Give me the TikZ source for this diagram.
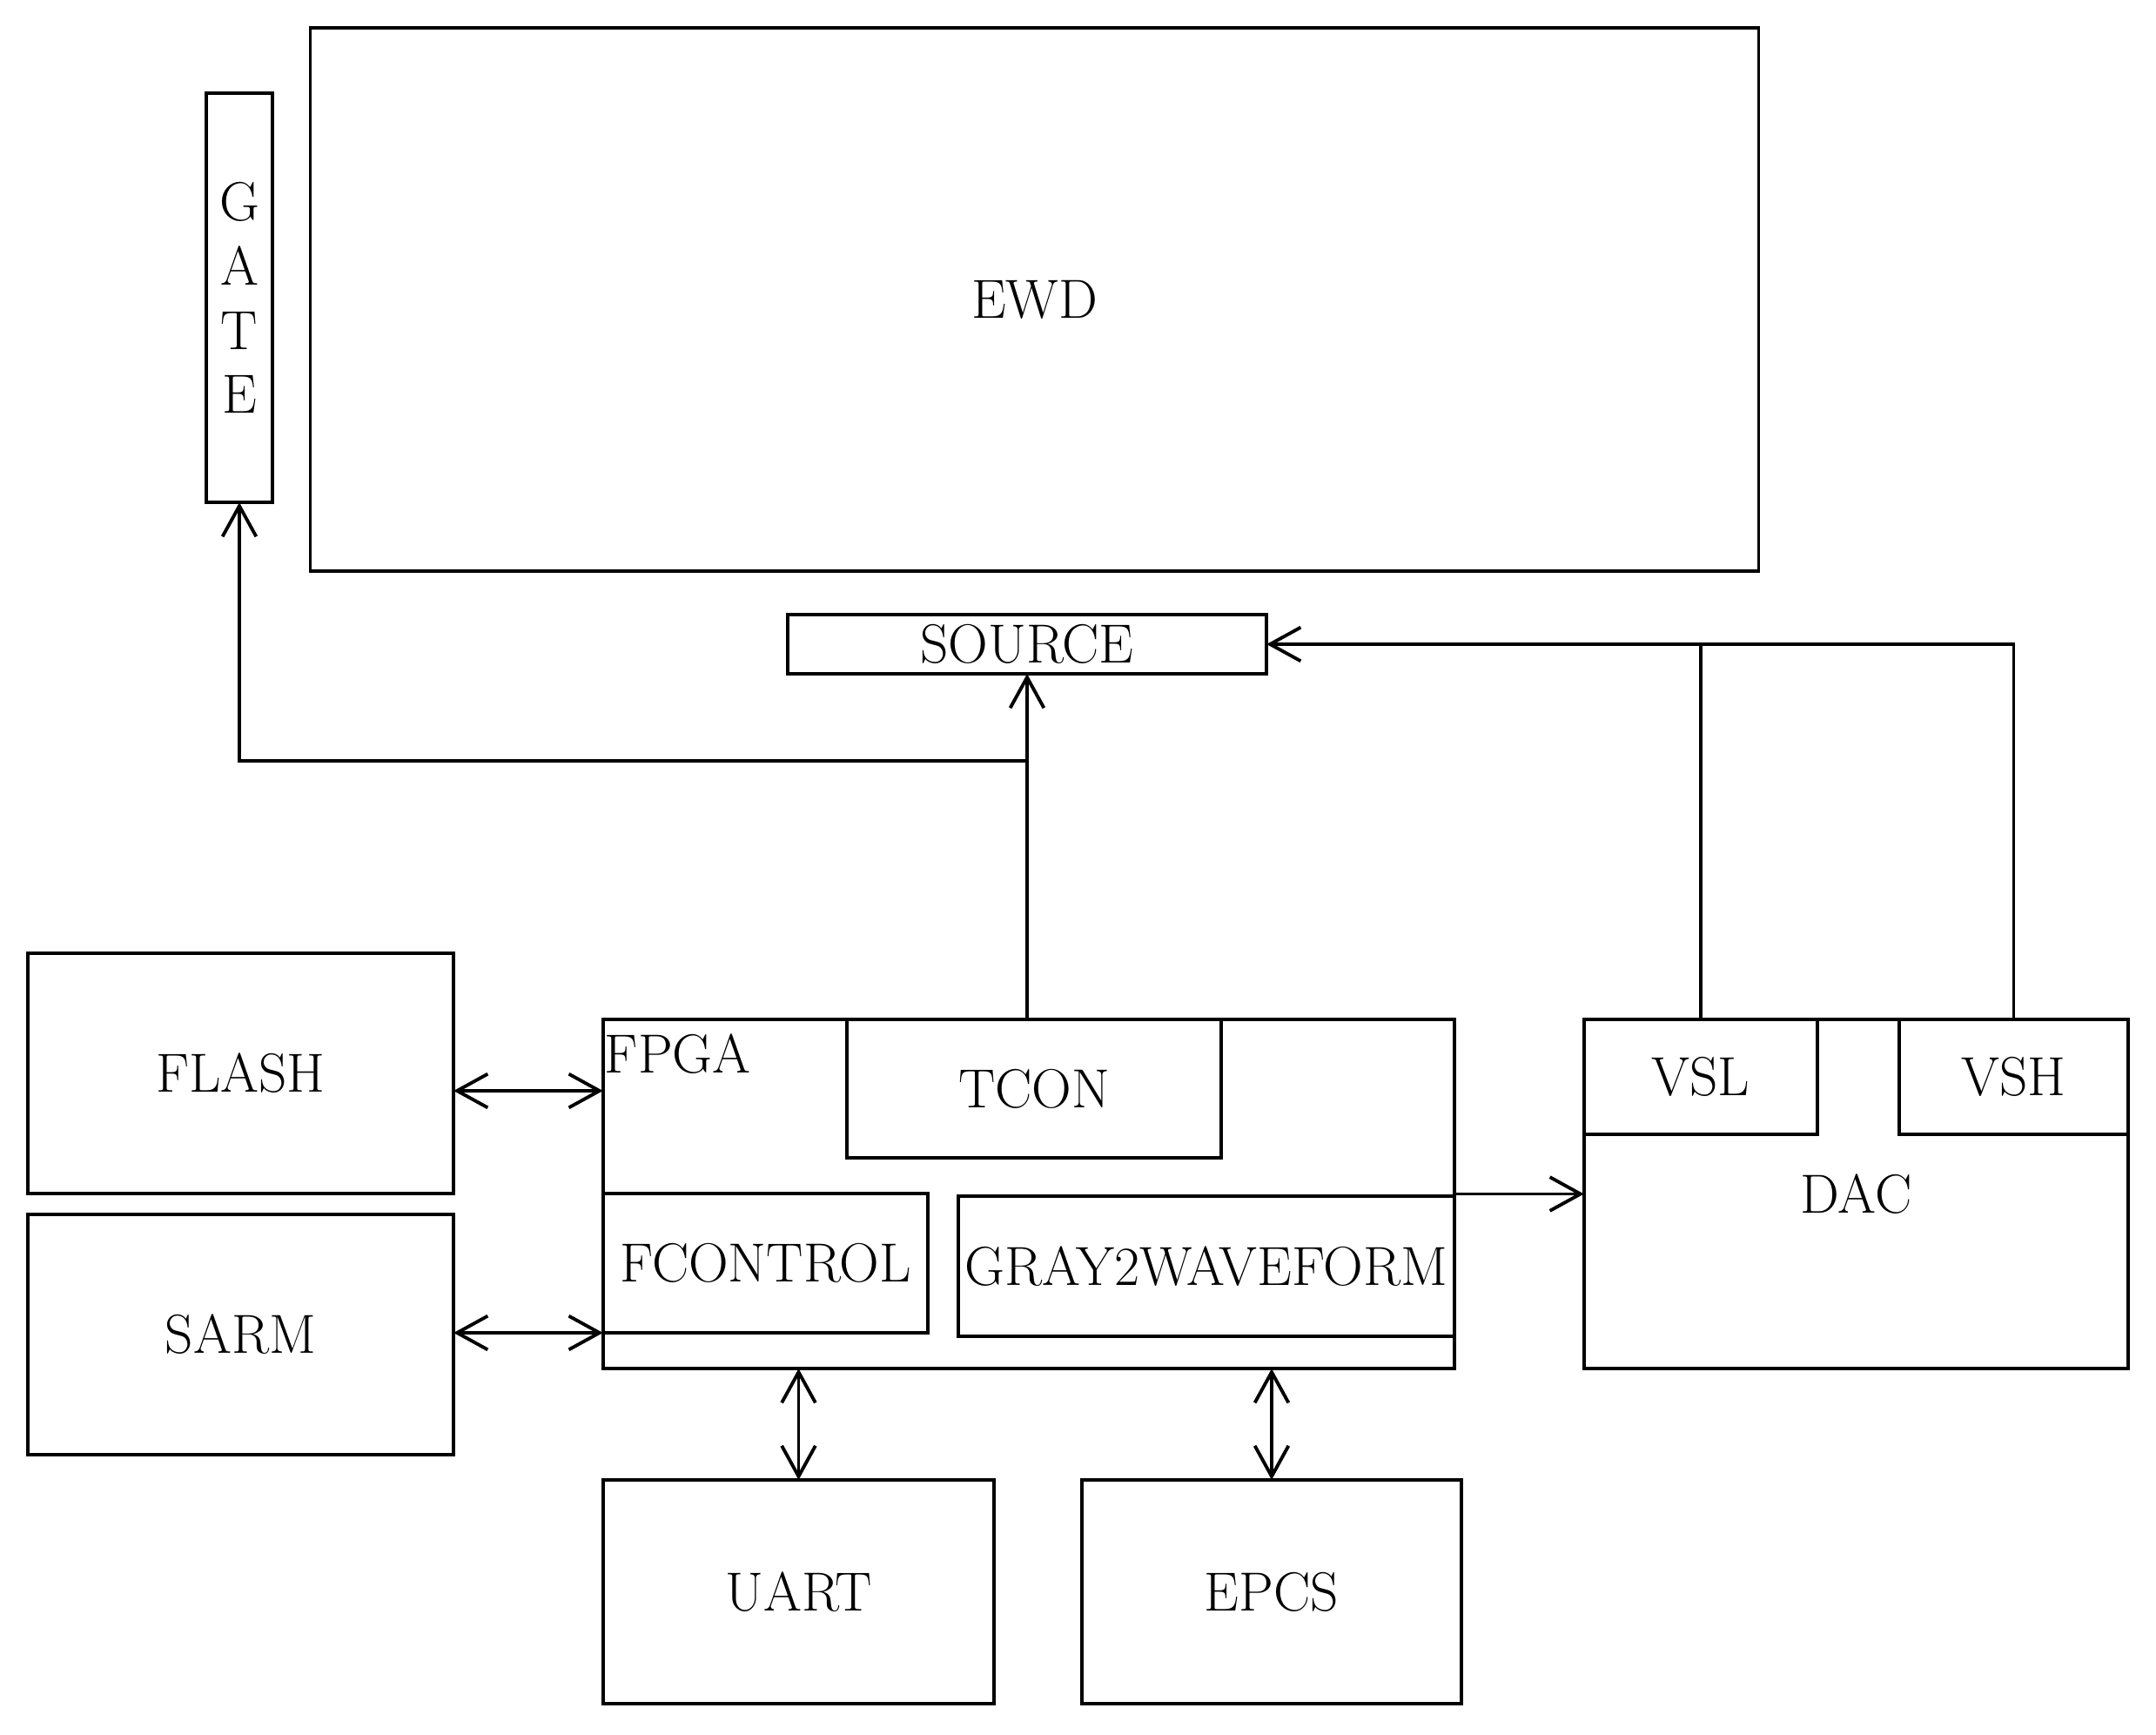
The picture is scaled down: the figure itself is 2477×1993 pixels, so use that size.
\documentclass[tikz,border=0pt]{standalone}
\usetikzlibrary{arrows.meta}
\begin{document}
\begin{tikzpicture}[x=0.01cm,y=-0.01cm,
  line width=1.1pt,
  box/.style={draw, rectangle, inner sep=0pt, outer sep=0pt, font=\fontsize{18}{21}\selectfont},
  conn/.style={line width=1.1pt},
  arr/.style={conn, -{Straight Barb[length=10pt,width=11pt]}},
  biarr/.style={conn, {Straight Barb[length=10pt,width=11pt]}-{Straight Barb[length=10pt,width=11pt]}}]
\useasboundingbox (0,0) rectangle (2477,1993);
% nodes
\node[box, minimum width=0.76cm, minimum height=4.70cm, align=center,
      font=\fontsize{18}{21}\selectfont] (GATE) at (275,342) {G\\A\\T\\E};
\node[box, minimum width=16.63cm, minimum height=6.24cm] (EWD) at (1188.5,344) {EWD};
\node[box, minimum width=5.50cm, minimum height=0.68cm] (SOURCE) at (1180,740) {SOURCE};
\node[box, minimum width=4.89cm, minimum height=2.76cm] (FLASH) at (276.5,1233) {FLASH};
\node[box, minimum width=4.89cm, minimum height=2.76cm] (SARM) at (276.5,1533) {SARM};
\node[box, minimum width=9.78cm, minimum height=4.01cm] (FPGA) at (1182,1371.5) {};
\node[anchor=base west, inner sep=0pt, font=\fontsize{18}{21}\selectfont] (FPGAlbl) at (693,1232) {FPGA};
\node[box, minimum width=4.30cm, minimum height=1.59cm] (TCON) at (1188,1250.5) {TCON};
\node[box, minimum width=3.73cm, minimum height=1.60cm] (FCONTROL) at (879.5,1451) {FCONTROL};
\node[box, minimum width=5.70cm, minimum height=1.61cm] (G2W) at (1386,1454.5) {GRAY2WAVEFORM};
\node[box, minimum width=6.25cm, minimum height=4.01cm] (DAC) at (2132.5,1371.5) {DAC};
\node[box, minimum width=2.68cm, minimum height=1.32cm] (VSL) at (1954,1237) {VSL};
\node[box, minimum width=2.63cm, minimum height=1.32cm] (VSH) at (2313.5,1237) {VSH};
\node[box, minimum width=4.49cm, minimum height=2.57cm] (UART) at (917.5,1828.5) {UART};
\node[box, minimum width=4.36cm, minimum height=2.57cm] (EPCS) at (1461,1828.5) {EPCS};
% connectors
\coordinate (j) at (SOURCE.south |- 0,874);
\draw[arr] (TCON.north -| SOURCE.south) -- (SOURCE.south);
\draw[arr] (j) -| (GATE.south);
\draw[arr] (VSL.north) |- (SOURCE.east);
\draw[conn] (VSH.north) |- (VSL.north |- SOURCE.east);
\draw[biarr] (FLASH.east |- 0,1253) -- (FPGA.west |- 0,1253);
\draw[biarr] (SARM.east |- 0,1531) -- (FPGA.west |- 0,1531);
\draw[biarr] (FPGA.south -| UART.north) -- (UART.north);
\draw[biarr] (FPGA.south -| EPCS.north) -- (EPCS.north);
\draw[arr] (FPGA.east) -- (DAC.west);
\end{tikzpicture}
\end{document}
